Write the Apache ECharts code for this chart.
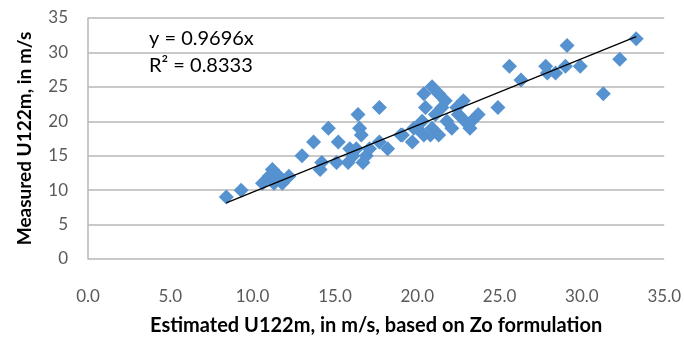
<!DOCTYPE html>
<html>
<head>
<meta charset="utf-8">
<script src="https://cdn.jsdelivr.net/npm/echarts@6/dist/echarts.min.js"></script>
<style>html,body{margin:0;padding:0;background:#fff}#c{width:684px;height:341px}</style>
</head>
<body>
<div id="c"></div>
<script>
// Estimated U122m (x) and Measured U122m (y), m/s
const estimated = [8.4,9.3,10.6,11.2,11.0,11.6,11.3,11.8,12.2,13.0,13.7,14.1,14.2,14.6,15.1,15.2,15.8,15.9,16.1,16.3,16.4,16.5,16.6,16.7,16.9,17.1,17.7,17.7,18.2,19.0,19.1,19.7,19.8,20.0,20.3,20.4,20.4,20.5,20.9,20.9,21.1,21.3,21.3,21.5,21.7,21.8,22.1,22.4,22.8,22.9,23.2,23.3,23.7,24.9,25.6,26.3,27.8,27.9,28.4,29.0,29.1,29.9,31.3,32.3,33.3,20.8,22.5];
const measured  = [9,10,11,13,12,12,11,11,12,15,17,13,14,19,14,17,14,16,15,16,21,19,18,14,15,16,22,17,16,18,18,17,19,19,20,24,18,22,25,19,21,24,18,22,23,20,19,22,23,20,19,20,21,22,28,26,28,27,27,28,31,28,24,29,32,18,21];
const slope = 0.9696;
const r2 = 0.8333;
const xTicks = [0,5,10,15,20,25,30,35];
const yTicks = [0,5,10,15,20,25,30,35];

const pts = estimated.map((x,i)=>[x,measured[i]]);
const xMin = Math.min(...estimated), xMax = Math.max(...estimated);
const trend = [[xMin, slope*xMin],[xMax, slope*xMax]];

const FONT = 'Lato, "Open Sans", sans-serif';
const chart = echarts.init(document.getElementById('c'), null, {renderer:'canvas'});
chart.setOption({
  animation:false,
  backgroundColor:'#fff',
  grid:{left:88,right:18,top:18,bottom:81,containLabel:false},
  xAxis:{
    type:'value',min:xTicks[0],max:xTicks[xTicks.length-1],interval:xTicks[1]-xTicks[0],
    axisLine:{show:false},
    axisTick:{show:false},
    splitLine:{show:false},
    axisLabel:{color:'#595959',fontFamily:FONT,fontSize:17,margin:29,formatter:v=>v.toFixed(1)},
    name:'Estimated U122m, in m/s, based on Zo formulation',
    nameLocation:'middle',nameGap:57,
    nameTextStyle:{color:'#000',fontFamily:FONT,fontSize:20,fontWeight:'bold'}
  },
  yAxis:{
    type:'value',min:yTicks[0],max:yTicks[yTicks.length-1],interval:yTicks[1]-yTicks[0],
    axisLine:{show:true,lineStyle:{color:'#b7b7b7',width:1.5}},
    axisTick:{show:false},
    splitLine:{show:true,lineStyle:{color:'#b7b7b7',width:1.5}},
    axisLabel:{color:'#595959',fontFamily:FONT,fontSize:17,margin:20},
    name:'Measured U122m, in m/s',
    nameLocation:'middle',nameGap:54,
    nameTextStyle:{color:'#000',fontFamily:FONT,fontSize:19,fontWeight:'bold'}
  },
  series:[
    {type:'scatter',data:pts,symbol:'diamond',symbolSize:[15,15],
     itemStyle:{color:'#5592cf',opacity:1},z:2},
    {type:'line',data:trend,symbol:'none',lineStyle:{color:'#000',width:1.2},z:3,silent:true}
  ],
  graphic:[
    {type:'text',left:149,top:29,style:{text:'y = '+slope+'x',fill:'#000',font:'20px '+FONT}},
    {type:'text',left:149,top:56,style:{text:'R² = '+r2.toFixed(4),fill:'#000',font:'20px '+FONT}}
  ]
});
</script>
</body>
</html>
